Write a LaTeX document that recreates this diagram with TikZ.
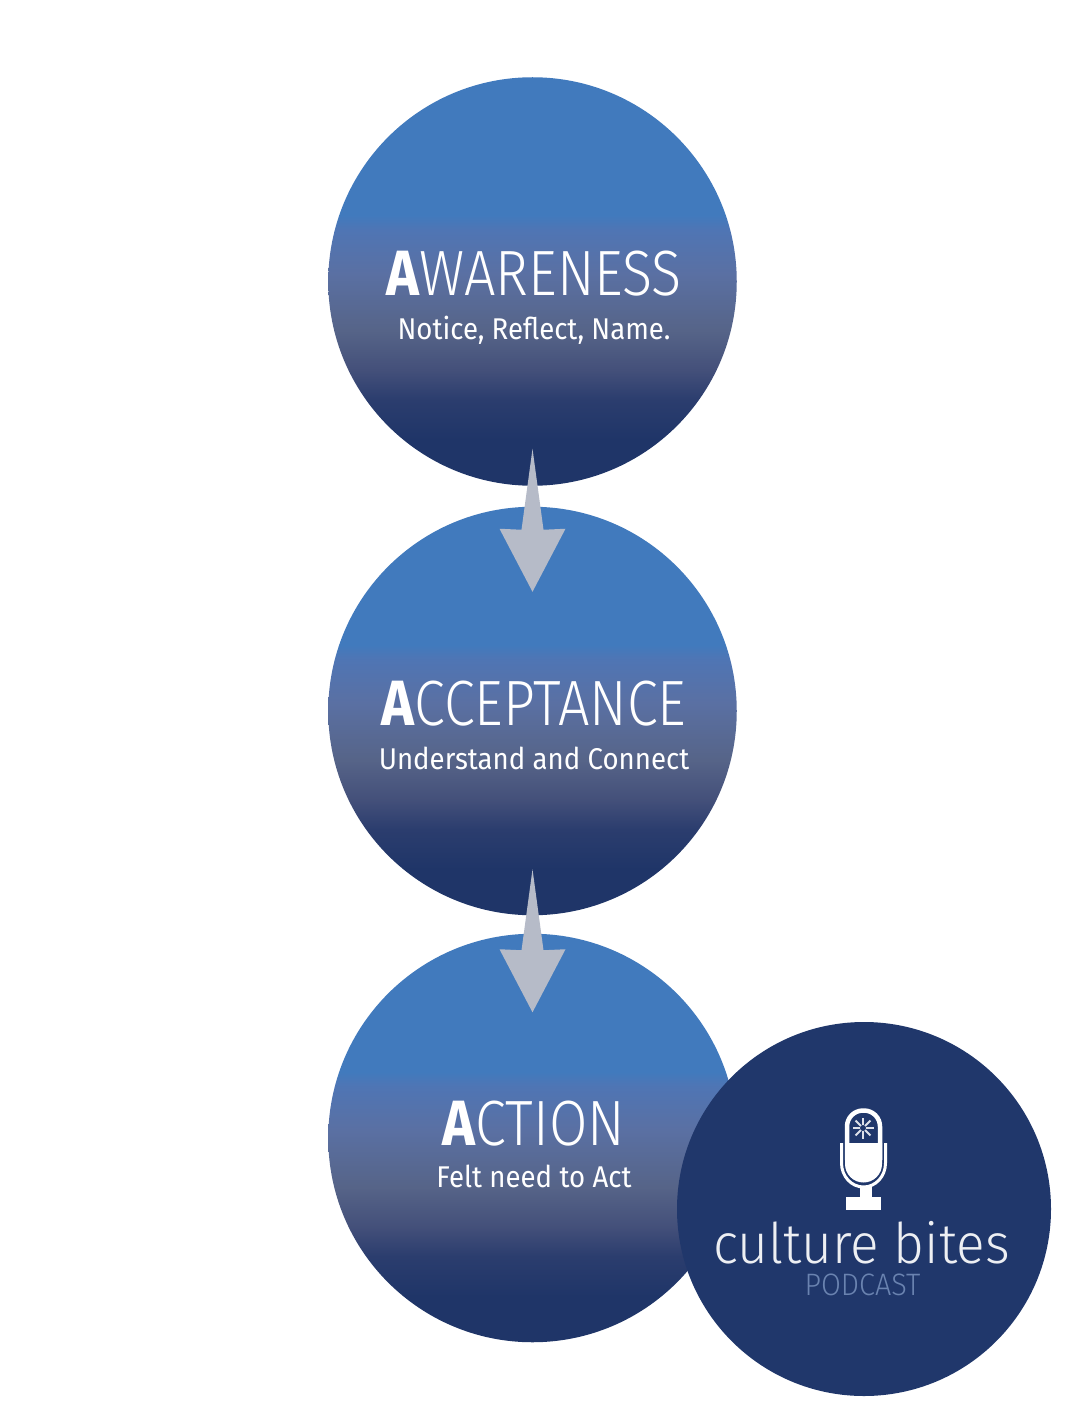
\documentclass[tikz,border=0pt]{standalone}
\usepackage{fontspec}
\usepackage{tikz}
\usetikzlibrary{shapes.geometric, positioning, calc}

\newfontfamily\condlight[FakeStretch=0.87]{Fira Sans Light}
\newfontfamily\condbold[FakeStretch=0.87]{Fira Sans Bold}
\newfontfamily\condtext[FakeStretch=0.92]{Fira Sans}
\newfontfamily\logofont[FakeStretch=0.95]{Fira Sans Light}
\newfontfamily\podfont[FakeStretch=0.93]{Fira Sans Light}

\definecolor{topblue}{HTML}{417ABD}
\definecolor{deepblue}{HTML}{1F3568}
\definecolor{fadea}{HTML}{2B3D6E}
\definecolor{fadeb}{HTML}{44507A}
\definecolor{fadec}{HTML}{566488}
\definecolor{faded}{HTML}{5A70A3}
\definecolor{fadee}{HTML}{4F75B4}
\definecolor{arrowgrey}{HTML}{B6BBC8}
\definecolor{logoblue}{HTML}{20376B}
\definecolor{podgrey}{HTML}{6A83B0}

% bbox of the circle runs from 25bp to 75bp
\pgfdeclareverticalshading{stagefade}{100bp}{
  color(0bp)=(deepblue);
  color(30.6bp)=(deepblue);
  color(35.5bp)=(fadea);
  color(39.2bp)=(fadeb);
  color(44bp)=(fadec);
  color(51bp)=(faded);
  color(56.3bp)=(fadee);
  color(58.1bp)=(topblue);
  color(100bp)=(topblue)}

\begin{document}
\begin{tikzpicture}[
  x=1pt, y=1pt,
  stage/.style={circle, minimum size=408.5pt, inner sep=0pt, outer sep=0pt, shading=stagefade},
  titletext/.style={anchor=base, text=white, inner sep=0pt, font=\fontsize{64}{70}\selectfont\condlight},
  subtext/.style={anchor=base, text=white, inner sep=0pt, font=\fontsize{30}{34}\selectfont\condtext},
  bigarrow/.style={fill=arrowgrey, to path={
    ($(\tikztostart.south)+(0,#1)$) coordinate (apex)
    -- ($(apex)+(11,-81)$) -- ($(apex)+(33,-80)$) -- ($(apex)+(0,-143)$)
    -- ($(apex)+(-33,-80)$) -- ($(apex)+(-11,-81)$) -- cycle}},
  micline/.style={draw=white, line width=3pt, fill=none},
]
  \useasboundingbox (0,0) rectangle (1069,-1420);

  % Circles
  \node[stage] (awareness) at (532.5,-281.5) {};
  \node[stage, below=21pt of awareness] (acceptance) {};
  \node[stage, below=18.5pt of acceptance] (action) {};

  % Labels
  \node[titletext, xshift=1.5pt, yshift=-14pt] (awarenesstitle) at (awareness) {{\condbold A}WARENESS};
  \node[subtext, xshift=1.5pt, yshift=-58pt] (awarenesssub) at (awareness) {Notice, Reflect, Name.};
  \node[titletext, xshift=1.5pt, yshift=-14pt] (acceptancetitle) at (acceptance) {{\condbold A}CCEPTANCE};
  \node[subtext, xshift=1.5pt, yshift=-58pt] (acceptancesub) at (acceptance) {Understand and Connect};
  \node[titletext, xshift=1.5pt, yshift=-7pt] (actiontitle) at (action) {{\condbold A}CTION};
  \node[subtext, xshift=1.5pt, yshift=-49pt] (actionsub) at (action) {Felt need to Act};

  % Arrows
  \path[bigarrow=37] (awareness) to (acceptance);
  \path[bigarrow=46] (acceptance) to (action);

  % Podcast badge
  \node[circle, minimum size=374pt, inner sep=0pt, fill=logoblue] (badge) at (864,-1209) {};
  \node[anchor=base, text=white!92!logoblue, inner sep=0pt, font=\fontsize{56}{60}\selectfont\logofont] (badgename) at (861.5,-1263) {culture bites};
  \node[anchor=base, text=podgrey, inner sep=0pt, font=\fontsize{31}{34}\selectfont\podfont] (badgesub) at (862.5,-1295) {PODCAST};

  % Microphone
  \draw[draw=white, line width=4.5pt, rounded corners=16pt] (847,-1160) -- (847,-1110.5) -- (880,-1110.5) -- (880,-1160);
  \fill[white] (845,-1143) -- (882,-1143) -- (882,-1164) arc[start angle=0, end angle=-180, radius=18.5pt] -- cycle;
  \draw[micline] (841.5,-1143) -- (841.5,-1163) arc[start angle=180, end angle=360, x radius=22pt, y radius=24pt] -- (885.5,-1143);
  \fill[white] (860,-1186) rectangle (872,-1200);
  \fill[white] (846,-1197) rectangle (881,-1210);
  \foreach \spoke in {0,45,...,315}
    \draw[white!85!logoblue, line width=2pt] (863,-1128) -- ++(\spoke:10.5pt);
  \fill[logoblue] (863,-1128) circle (3pt);
\end{tikzpicture}
\end{document}
